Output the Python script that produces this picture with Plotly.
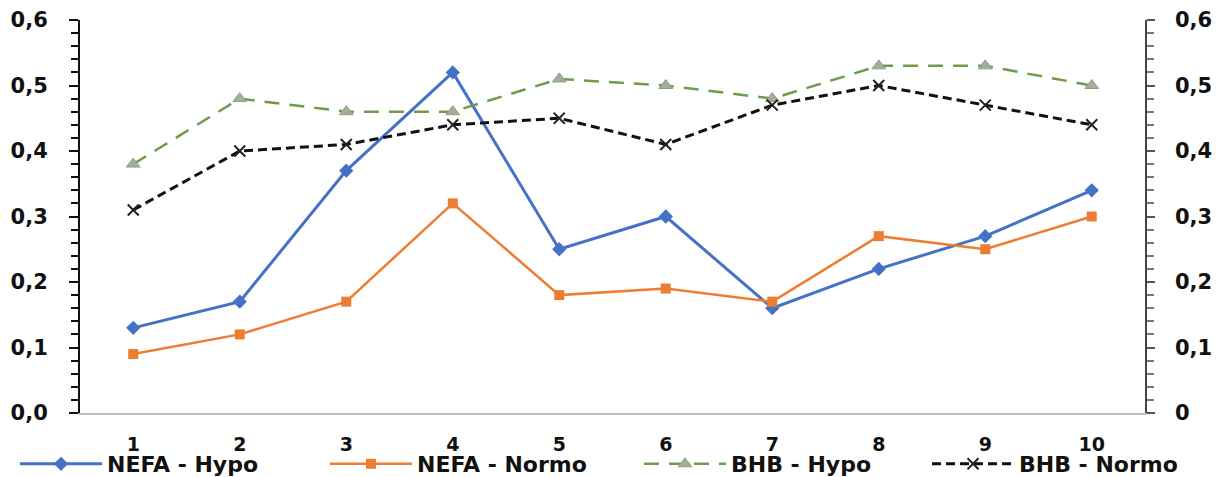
import plotly.graph_objects as go

categories = ["1", "2", "3", "4", "5", "6", "7", "8", "9", "10"]
nefa_hypo = [0.13, 0.17, 0.37, 0.52, 0.25, 0.30, 0.16, 0.22, 0.27, 0.34]
nefa_normo = [0.09, 0.12, 0.17, 0.32, 0.18, 0.19, 0.17, 0.27, 0.25, 0.30]
bhb_hypo = [0.38, 0.48, 0.46, 0.46, 0.51, 0.50, 0.48, 0.53, 0.53, 0.50]
bhb_normo = [0.31, 0.40, 0.41, 0.44, 0.45, 0.41, 0.47, 0.50, 0.47, 0.44]
left_ticks = [0.0, 0.1, 0.2, 0.3, 0.4, 0.5, 0.6]
left_labels = ["0,0", "0,1", "0,2", "0,3", "0,4", "0,5", "0,6"]
right_labels = ["0", "0,1", "0,2", "0,3", "0,4", "0,5", "0,6"]

W, H = 1226, 477
L, R, T, B = 80, 81, 20, 64
pw = W - L - R
ph = H - T - B

def px(x):
    return (x - L) / pw

def py(y):
    return (H - B - y) / ph

FONT = "DejaVu Sans"

fig = go.Figure()
fig.add_trace(go.Scatter(
    x=categories, y=nefa_hypo, name="NEFA - Hypo", mode="lines+markers",
    line=dict(color="#4472C4", width=3),
    marker=dict(symbol="diamond", size=11, color="#4472C4"),
    legend="legend"))
fig.add_trace(go.Scatter(
    x=categories, y=nefa_normo, name="NEFA - Normo", mode="lines+markers",
    line=dict(color="#ED7D31", width=2.5),
    marker=dict(symbol="square", size=10, color="#ED7D31"),
    legend="legend2"))
fig.add_trace(go.Scatter(
    x=categories, y=bhb_hypo, name="BHB - Hypo", mode="lines+markers",
    line=dict(color="#6E9C4E", width=2.5, dash="15px,10px"),
    marker=dict(symbol="triangle-up", size=12, color="#A3AE9A",
                line=dict(color="#8FA082", width=1)),
    legend="legend3"))
fig.add_trace(go.Scatter(
    x=categories, y=bhb_normo, name="BHB - Normo", mode="lines+markers",
    line=dict(color="#111111", width=3, dash="9px,5px"),
    marker=dict(symbol="x-thin", size=11, color="#111111",
                line=dict(color="#222222", width=2)),
    legend="legend4", yaxis="y2"))

legfont = dict(family=FONT, size=22, color="#111111", weight="bold")
xtickfont = dict(family=FONT, size=19, color="#111111", weight="bold")
ytickfont = dict(family=FONT, size=21, color="#111111", weight="bold")
ly = py(464)
def leg(x):
    return dict(x=px(x), y=ly, xanchor="left", yanchor="middle",
                orientation="h", font=legfont, itemwidth=82,
                bgcolor="rgba(0,0,0,0)", tracegroupgap=0)

fig.update_layout(
    width=W, height=H,
    margin=dict(l=L, r=R, t=T, b=B, pad=0, autoexpand=False),
    paper_bgcolor="white", plot_bgcolor="white",
    showlegend=True,
    legend=leg(15), legend2=leg(325), legend3=leg(639), legend4=leg(927),
    xaxis=dict(
        type="category", range=[-0.5, 9.5], showgrid=False,
        showline=True, linecolor="#BFBFBF", linewidth=1.5,
        ticks="", zeroline=False, ticklabelstandoff=13,
        tickfont=xtickfont,
    ),
    yaxis=dict(
        range=[0, 0.6], tickvals=left_ticks, ticktext=left_labels,
        showgrid=False, zeroline=False,
        showline=True, linecolor="#111111", linewidth=2,
        ticks="outside", ticklen=9, tickwidth=2, tickcolor="#111111",
        minor=dict(dtick=0.02, ticks="outside", ticklen=7, tickwidth=2,
                   tickcolor="#111111", showgrid=False),
        tickfont=ytickfont,
        ticklabelstandoff=17,
    ),
    yaxis2=dict(
        range=[0, 0.6], tickvals=left_ticks, ticktext=right_labels,
        overlaying="y", side="right",
        showgrid=False, zeroline=False,
        showline=True, linecolor="#444444", linewidth=1.5,
        ticks="outside", ticklen=8, tickwidth=1.5, tickcolor="#555555",
        minor=dict(dtick=0.02, ticks="outside", ticklen=7, tickwidth=1.5,
                   tickcolor="#777777", showgrid=False),
        tickfont=ytickfont,
        ticklabelstandoff=16,
    ),
)

fig.write_html("out.html")
